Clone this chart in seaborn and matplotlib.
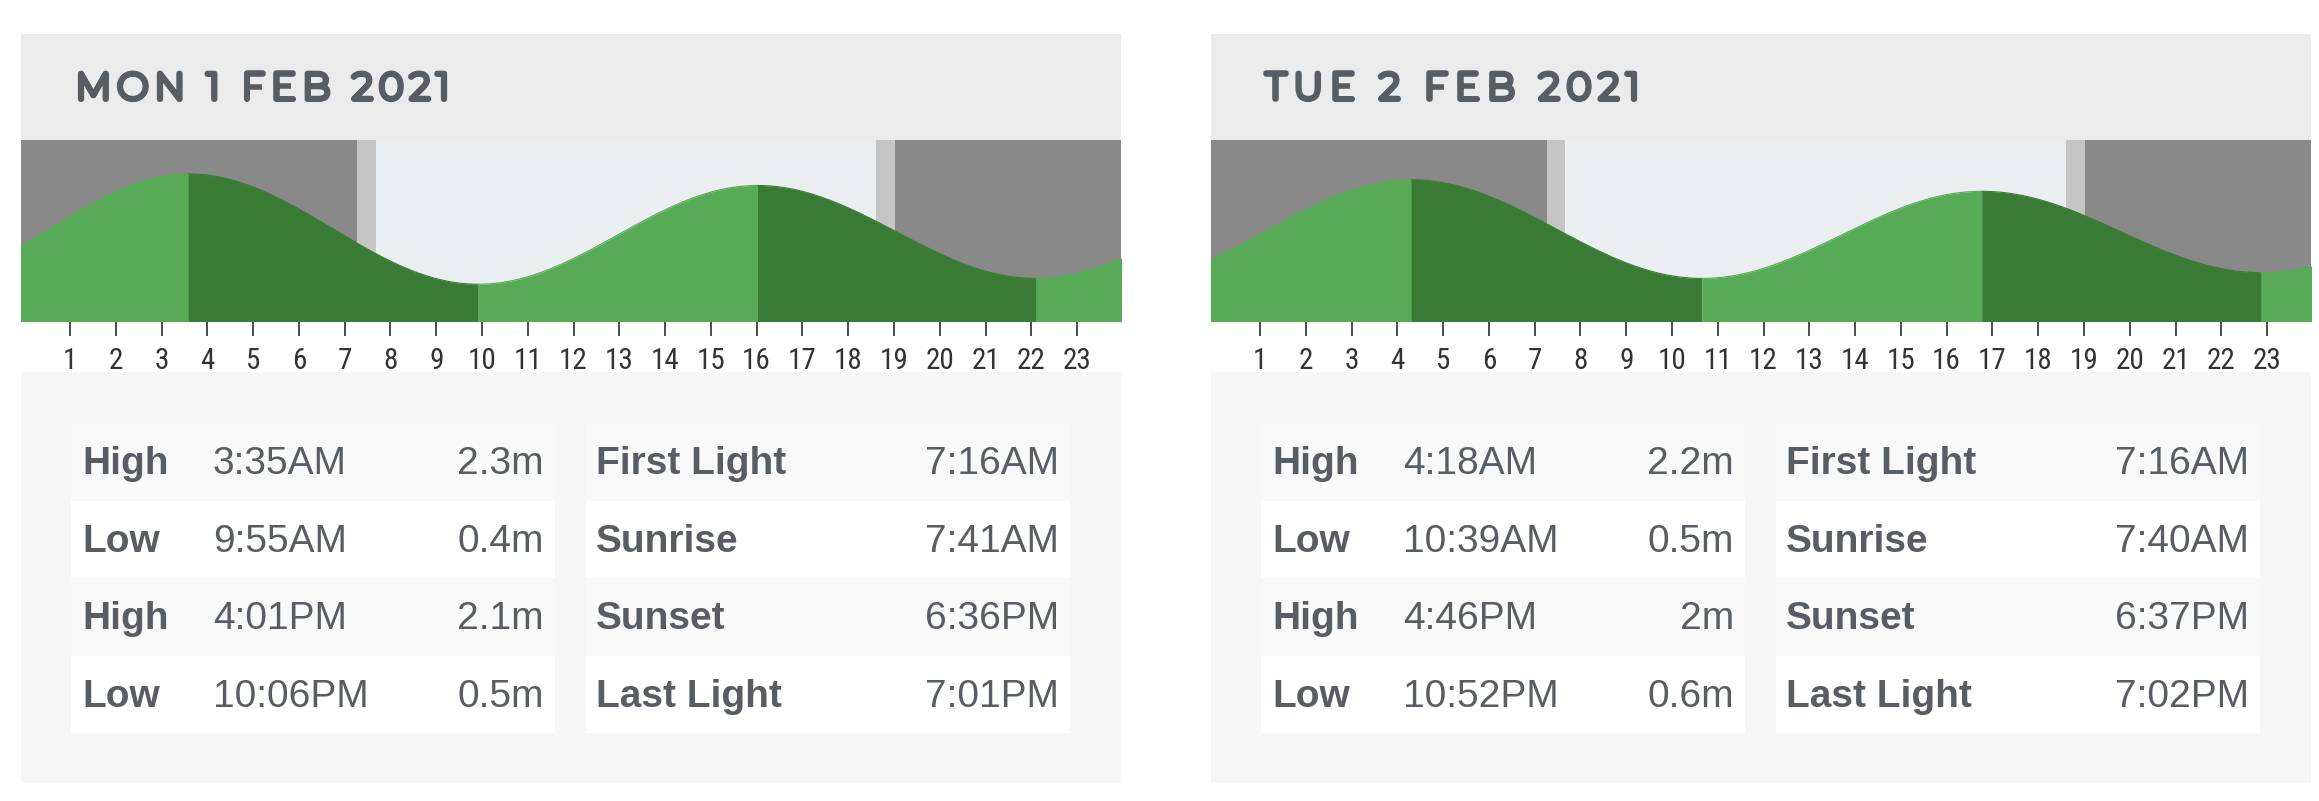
import numpy as np
import pandas as pd
import matplotlib
matplotlib.use("Agg")
import matplotlib.pyplot as plt
from matplotlib.patches import Rectangle
from matplotlib import font_manager as fm
from matplotlib import patheffects as pe
from matplotlib.ft2font import FT2Font
import seaborn as sns

# ---------------- data ----------------
day_titles = ["MON 1 FEB 2021", "TUE 2 FEB 2021"]

tide_kind_1 = ["High", "Low", "High", "Low"]
tide_time_1 = ["3:35AM", "9:55AM", "4:01PM", "10:06PM"]
tide_height_1 = [2.3, 0.4, 2.1, 0.5]

tide_kind_2 = ["High", "Low", "High", "Low"]
tide_time_2 = ["4:18AM", "10:39AM", "4:46PM", "10:52PM"]
tide_height_2 = [2.2, 0.5, 2.0, 0.6]

# neighbouring extremes just outside each day (hours relative to that day's midnight, metres)
prev_extreme_1 = (-2.3, 0.5)
next_extreme_1 = (28.3, 2.2)
prev_extreme_2 = (-1.9, 0.5)
next_extreme_2 = (29.0, 2.1)

light_labels = ["First Light", "Sunrise", "Sunset", "Last Light"]
light_time_1 = ["7:16AM", "7:41AM", "6:36PM", "7:01PM"]
light_time_2 = ["7:16AM", "7:40AM", "6:37PM", "7:02PM"]

hour_ticks = list(range(1, 24))

# ---------------- style ----------------
sns.set_theme(style="white")
plt.rcParams["font.family"] = ["Liberation Sans", "DejaVu Sans"]

ttf = fm.fontManager.ttflist
names = {f.name for f in ttf}
narrow = [n for n in ["Liberation Sans Narrow", "DejaVu Sans Condensed", "Roboto Condensed"] if n in names]
narrow_family = narrow + ["DejaVu Sans"] if narrow else ["DejaVu Sans"]


def font_file(name, bold):
    cands = [f for f in ttf if f.name == name and f.style == "normal"]
    if bold:
        cands = [f for f in cands if f.weight == "bold" or (isinstance(f.weight, int) and f.weight >= 650)]
    return cands[0].fname if cands else None


head_path = None
head_stroke = 0.0
mont_bold = font_file("Montserrat", True)
mont_any = font_file("Montserrat", False)
if mont_bold:
    head_path = mont_bold
elif mont_any:
    head_path = mont_any
    head_stroke = 4.0
else:
    for n in ["Lato", "Inter", "Open Sans", "Liberation Sans"]:
        head_path = font_file(n, True)
        if head_path:
            break

TEXT = "#585d63"
NIGHT = "#898989"
TWI = "#c5c5c5"
DAY = "#ebeef0"
LGREEN = "#58ab56"
DGREEN = "#397b34"
HEADER_BG = "#ebebeb"
TABLE_BG = "#f7f7f7"
ROW_ALT = "#f9f9f9"

W, H = 2319, 801
DPI = 100
fig = plt.figure(figsize=(W / DPI, H / DPI), dpi=DPI, facecolor="white")

panel_x = [21, 1211]
PW = 1100
CH_TOP, CH_BOT = 140, 321
XLIM = (-0.07, 23.96)
YLIM = (-0.233, 2.883)


def to_hours(s):
    hm, ap = s[:-2], s[-2:]
    h, m = hm.split(":")
    h = int(h) % 12 + (12 if ap == "PM" else 0)
    return h + int(m) / 60.0


def fmt_m(v):
    return (f"{v:g}") + "m"


ov = fig.add_axes([0, 0, 1, 1], zorder=5)
ov.set_xlim(0, W)
ov.set_ylim(H, 0)
ov.axis("off")
ov.patch.set_alpha(0)


def spaced_text(x, y, s, size, target_w, color):
    if head_path:
        prop = fm.FontProperties(fname=head_path, size=size)
        path = head_path
    else:
        prop = fm.FontProperties(family="DejaVu Sans", weight="bold", size=size)
        path = fm.findfont(prop)
    font = FT2Font(path)
    font.set_size(size, DPI)
    adv = []
    for c in s:
        g = font.load_char(ord(c))
        adv.append(g.linearHoriAdvance / 65536.0)
    sw_px = head_stroke * DPI / 72.0
    natural = sum(adv)
    extra = (target_w - natural - sw_px) / (len(s) - 1)
    cx = x + sw_px / 2
    effects = [pe.withStroke(linewidth=head_stroke, foreground=color)] if head_stroke else None
    for c, a in zip(s, adv):
        ov.text(cx, y - sw_px / 2, c, fontproperties=prop, color=color, ha="left", va="baseline",
                path_effects=effects)
        cx += a + extra


datasets = [
    (tide_kind_1, tide_time_1, tide_height_1, prev_extreme_1, next_extreme_1, light_time_1),
    (tide_kind_2, tide_time_2, tide_height_2, prev_extreme_2, next_extreme_2, light_time_2),
]

for p, (kinds, times, heights, prv, nxt, lights) in enumerate(datasets):
    x0 = panel_x[p]
    # header
    ov.add_patch(Rectangle((x0, 34), PW, CH_TOP - 34, color=HEADER_BG, lw=0))
    spaced_text(x0 + 52, 102, day_titles[p], 26.5, 379, TEXT)
    # table background
    ov.add_patch(Rectangle((x0, 372), PW, 783 - 372, color=TABLE_BG, lw=0))
    row_h = 77.6
    for i in range(4):
        top = 423 + i * row_h
        col = "white" if i % 2 else ROW_ALT
        ov.add_patch(Rectangle((x0 + 50, top), 484, row_h, color=col, lw=0))
        ov.add_patch(Rectangle((x0 + 565, top), 484, row_h, color=col, lw=0))
        base = 474 + i * row_h
        ov.text(x0 + 61, base, kinds[i], fontsize=28, fontweight="bold", color=TEXT, va="baseline")
        ov.text(x0 + 192, base, times[i], fontsize=28, color=TEXT, va="baseline")
        ov.text(x0 + 523, base, fmt_m(heights[i]), fontsize=28, color=TEXT, va="baseline", ha="right")
        ov.text(x0 + 575, base, light_labels[i], fontsize=28, fontweight="bold", color=TEXT, va="baseline")
        ov.text(x0 + 1038, base, lights[i], fontsize=28, color=TEXT, va="baseline", ha="right")

    # chart axes
    ax = fig.add_axes([x0 / W, (H - CH_BOT) / H, PW / W, (CH_BOT - CH_TOP) / H], zorder=2)
    ax.set_xlim(*XLIM)
    ax.set_ylim(*YLIM)
    lt = [to_hours(t) for t in lights]
    ax.axvspan(XLIM[0], lt[0], color=NIGHT, lw=0)
    ax.axvspan(lt[0], lt[1], color=TWI, lw=0)
    ax.axvspan(lt[1], lt[2], color=DAY, lw=0)
    ax.axvspan(lt[2], lt[3], color=TWI, lw=0)
    ax.axvspan(lt[3], XLIM[1], color=NIGHT, lw=0)

    ext_t = [prv[0]] + [to_hours(t) for t in times] + [nxt[0]]
    ext_h = [prv[1]] + list(heights) + [nxt[1]]
    for k in range(len(ext_t) - 1):
        t0, t1 = ext_t[k], ext_t[k + 1]
        h0, h1 = ext_h[k], ext_h[k + 1]
        tt = np.linspace(t0, t1, 300)
        hh = h0 + (h1 - h0) * (1 - np.cos(np.pi * (tt - t0) / (t1 - t0))) / 2
        col = DGREEN if h1 < h0 else LGREEN
        ax.fill_between(tt, YLIM[0] - 1, hh, color=col, lw=0)
        seg = pd.DataFrame({"hour": tt, "height": hh})
        sns.lineplot(data=seg, x="hour", y="height", color=col, lw=0.8, ax=ax,
                     estimator=None, sort=False, legend=False)
    ax.set_xlim(*XLIM)
    ax.set_ylim(*YLIM)
    for s in ax.spines.values():
        s.set_visible(False)
    ax.set_xlabel("")
    ax.set_ylabel("")
    ax.set_yticks([])
    ax.set_xticks(hour_ticks)
    ax.set_xticklabels([str(h) for h in hour_ticks], family=narrow_family)
    ax.tick_params(axis="x", direction="out", length=10.5, width=1.1, color="#1a1a1a",
                   labelsize=21, labelcolor="#333333", pad=8, bottom=True)

fig.savefig("out.png", dpi=DPI, facecolor="white")
